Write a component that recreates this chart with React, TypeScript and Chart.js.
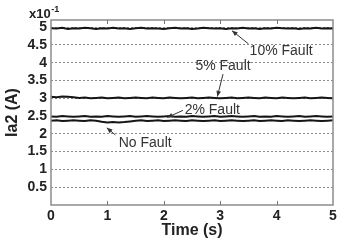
import React, { useEffect, useRef } from "react";
import { Chart, registerables } from "chart.js";

Chart.register(...registerables);

const times = [
  0, 0.1, 0.2, 0.3, 0.4, 0.5, 0.6, 0.7, 0.8, 0.9,
  1.0, 1.1, 1.2, 1.3, 1.4, 1.5, 1.6, 1.7, 1.8, 1.9,
  2.0, 2.1, 2.2, 2.3, 2.4, 2.5, 2.6, 2.7, 2.8, 2.9,
  3.0, 3.1, 3.2, 3.3, 3.4, 3.5, 3.6, 3.7, 3.8, 3.9,
  4.0, 4.1, 4.2, 4.3, 4.4, 4.5, 4.6, 4.7, 4.8, 4.9, 5.0,
];

const fault10 = [
  4.97, 4.96, 4.98, 4.95, 4.97, 4.96, 4.98, 4.97, 4.95, 4.97,
  4.96, 4.98, 4.96, 4.97, 4.95, 4.97, 4.98, 4.96, 4.97, 4.96,
  4.95, 4.97, 4.98, 4.96, 4.97, 4.95, 4.96, 4.98, 4.97, 4.96,
  4.97, 4.95, 4.97, 4.96, 4.98, 4.96, 4.97, 4.95, 4.97, 4.96,
  4.98, 4.97, 4.96, 4.97, 4.95, 4.97, 4.96, 4.98, 4.96, 4.97, 4.96,
];

const fault5 = [
  3.04, 3.03, 3.05, 3.04, 3.03, 3.01, 3.02, 3.0, 3.01, 3.02,
  3.0, 3.01, 3.02, 3.0, 3.01, 3.02, 3.01, 3.0, 3.02, 3.01,
  3.0, 3.02, 3.01, 3.0, 3.01, 3.02, 3.0, 3.01, 3.02, 3.01,
  3.0, 3.01, 3.02, 3.0, 3.01, 3.02, 3.01, 3.0, 3.02, 3.01,
  3.0, 3.02, 3.01, 3.0, 3.01, 3.02, 3.0, 3.01, 3.02, 3.01, 3.0,
];

const fault2 = [
  2.49, 2.48, 2.5, 2.49, 2.48, 2.49, 2.5, 2.48, 2.49, 2.48,
  2.5, 2.49, 2.48, 2.49, 2.5, 2.48, 2.49, 2.5, 2.49, 2.48,
  2.49, 2.5, 2.48, 2.49, 2.48, 2.5, 2.49, 2.48, 2.49, 2.5,
  2.48, 2.49, 2.5, 2.49, 2.48, 2.49, 2.5, 2.48, 2.49, 2.48,
  2.5, 2.49, 2.48, 2.49, 2.5, 2.48, 2.49, 2.5, 2.49, 2.48, 2.49,
];

const noFault = [
  2.37, 2.38, 2.36, 2.37, 2.38, 2.37, 2.36, 2.38, 2.37, 2.34,
  2.32, 2.33, 2.32, 2.33, 2.35, 2.37, 2.38, 2.36, 2.37, 2.38,
  2.36, 2.37, 2.38, 2.37, 2.36, 2.38, 2.37, 2.36, 2.37, 2.38,
  2.36, 2.37, 2.38, 2.37, 2.36, 2.37, 2.38, 2.36, 2.37, 2.38,
  2.37, 2.36, 2.38, 2.37, 2.36, 2.37, 2.38, 2.37, 2.36, 2.37, 2.38,
];

const yTicks = [0.5, 1, 1.5, 2, 2.5, 3, 3.5, 4, 4.5, 5];
const xTicks = [0, 1, 2, 3, 4, 5];

// annotations: label, text centre (t, value), arrow from (t, value) to (t, value)
const annLabels = ["10% Fault", "5% Fault", "2% Fault", "No Fault"];
const annText = [
  [4.08, 4.33],
  [3.05, 3.9],
  [2.86, 2.66],
  [1.67, 1.74],
];
const annFrom = [
  [3.5, 4.53],
  [3.05, 3.68],
  [2.34, 2.66],
  [1.14, 1.97],
];
const annTo = [
  [3.21, 4.9],
  [2.95, 3.05],
  [2.06, 2.46],
  [0.99, 2.17],
];

const series = [fault10, fault5, fault2, noFault];

const framePlugin = {
  id: "frame",
  afterDatasetsDraw(chart: any) {
    const { ctx, chartArea: a, scales } = chart;
    const xs = scales.x;
    const ys = scales.y;
    ctx.save();
    // box
    ctx.strokeStyle = "#8c8c8c";
    ctx.lineWidth = 1.5;
    ctx.strokeRect(a.left, a.top, a.right - a.left, a.bottom - a.top);
    // inward x ticks top & bottom
    ctx.lineWidth = 1;
    ctx.strokeStyle = "#777";
    for (const t of [1, 2, 3, 4]) {
      const px = Math.round(xs.getPixelForValue(t)) + 0.5;
      ctx.beginPath();
      ctx.moveTo(px, a.bottom);
      ctx.lineTo(px, a.bottom - 4);
      ctx.moveTo(px, a.top);
      ctx.lineTo(px, a.top + 4);
      ctx.stroke();
    }
    // exponent label
    ctx.fillStyle = "#222";
    ctx.textBaseline = "alphabetic";
    ctx.textAlign = "left";
    ctx.font = "bold 13px 'Liberation Sans', Arial, sans-serif";
    ctx.fillText("x10", 29, 18);
    const w = ctx.measureText("x10").width;
    ctx.font = "bold 9px 'Liberation Sans', Arial, sans-serif";
    ctx.fillText("-1", 29 + w + 0.5, 12);
    // annotations
    ctx.font = "14px 'Liberation Sans', Arial, sans-serif";
    ctx.fillStyle = "#333";
    ctx.strokeStyle = "#333";
    ctx.textAlign = "center";
    ctx.textBaseline = "middle";
    for (let i = 0; i < annLabels.length; i++) {
      const tx = xs.getPixelForValue(annText[i][0]);
      const ty = ys.getPixelForValue(annText[i][1]);
      ctx.fillText(annLabels[i], tx, ty);
      const fx = xs.getPixelForValue(annFrom[i][0]);
      const fy = ys.getPixelForValue(annFrom[i][1]);
      const ex = xs.getPixelForValue(annTo[i][0]);
      const ey = ys.getPixelForValue(annTo[i][1]);
      ctx.lineWidth = 1;
      ctx.beginPath();
      ctx.moveTo(fx, fy);
      ctx.lineTo(ex, ey);
      ctx.stroke();
      const ang = Math.atan2(ey - fy, ex - fx);
      const L = 6;
      const s = 0.4;
      ctx.beginPath();
      ctx.moveTo(ex, ey);
      ctx.lineTo(ex - L * Math.cos(ang - s), ey - L * Math.sin(ang - s));
      ctx.lineTo(ex - L * Math.cos(ang + s), ey - L * Math.sin(ang + s));
      ctx.closePath();
      ctx.fill();
    }
    ctx.restore();
  },
};

export default function App() {
  const ref = useRef<HTMLCanvasElement | null>(null);
  useEffect(() => {
    document.body.style.margin = "0";
    const canvas = ref.current;
    if (!canvas) return;
    const chart = new Chart(canvas, {
      type: "line",
      data: {
        datasets: series.map((s) => ({
          data: s.map((v, i) => ({ x: times[i], y: v })),
          borderColor: "#151515",
          borderWidth: 2,
          pointRadius: 0,
          tension: 0,
          fill: false,
        })),
      },
      options: {
        animation: false,
        responsive: false,
        devicePixelRatio: 1,
        layout: { padding: { left: 0, top: 20, right: 14, bottom: 0 } },
        plugins: { legend: { display: false }, tooltip: { enabled: false } },
        scales: {
          x: {
            type: "linear",
            min: 0,
            max: 5,
            afterFit: (s: any) => {
              s.height = 41;
            },
            afterBuildTicks: (s: any) => {
              s.ticks = xTicks.map((v) => ({ value: v }));
            },
            grid: { display: false, drawTicks: false },
            border: { display: false },
            ticks: {
              padding: 3,
              color: "#222",
              font: { family: "'Liberation Sans', Arial, sans-serif", size: 14, weight: "bold" },
              maxRotation: 0,
            },
            title: {
              display: true,
              text: "Time (s)",
              color: "#222",
              padding: { top: 0, bottom: 6 },
              font: { family: "'Liberation Sans', Arial, sans-serif", size: 16, weight: "bold" },
            },
          },
          y: {
            type: "linear",
            min: 0,
            max: 5.2,
            afterFit: (s: any) => {
              s.width = 51;
            },
            afterBuildTicks: (s: any) => {
              s.ticks = yTicks.map((v) => ({ value: v }));
            },
            grid: {
              color: "#8a8a8a",
              lineWidth: 1,
              drawTicks: false,
            },
            border: { display: false, dash: [2, 2] },
            ticks: {
              padding: 4,
              color: "#222",
              font: { family: "'Liberation Sans', Arial, sans-serif", size: 14, weight: "bold" },
              callback: (v: any) => String(v),
            },
            title: {
              display: true,
              text: "Ia2 (A)",
              color: "#222",
              padding: { top: 3, bottom: 0 },
              font: { family: "'Liberation Sans', Arial, sans-serif", size: 16, weight: "bold" },
            },
          },
        },
      } as any,
      plugins: [framePlugin],
    });
    return () => chart.destroy();
  }, []);
  return (
    <div style={{ position: "fixed", left: 0, top: 0, width: 347, height: 246, background: "#fff" }}>
      <canvas ref={ref} width={347} height={246} style={{ width: 347, height: 246 }} />
    </div>
  );
}
